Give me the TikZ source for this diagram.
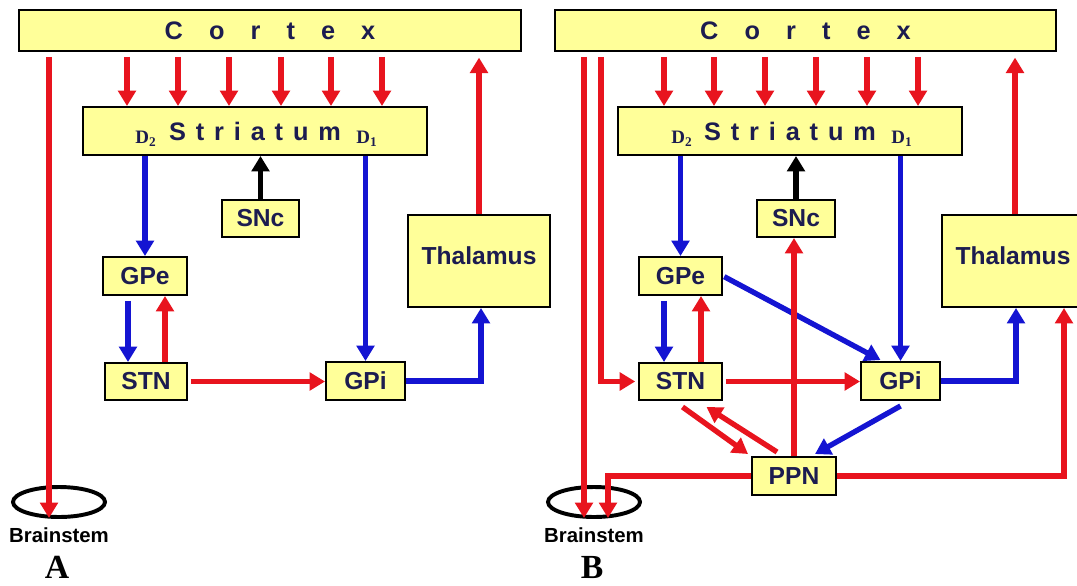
\documentclass[tikz,border=0pt]{standalone}
\usepackage{fontspec}
\setmainfont{Liberation Sans}
\newfontfamily\timesfont{Liberation Serif}
\usepackage{tikz}
\usetikzlibrary{calc,positioning,shapes.geometric,arrows.meta}

\newcommand{\px}{0.025cm}
\definecolor{boxyellow}{RGB}{255,255,153}
\definecolor{navy}{RGB}{28,28,80}
\definecolor{pathred}{RGB}{232,20,30}
\definecolor{pathblue}{RGB}{20,20,210}

\tikzset{
  nucleus/.style={draw=black, line width=1.4pt, fill=boxyellow, inner sep=0pt,
    text=navy, font=\fontsize{17.5}{20}\selectfont\bfseries},
  boxsize/.style 2 args={minimum width=#1*\px, minimum height=#2*\px},
  excite/.style={draw=pathred, line width=3.8pt, -{Triangle[width=12.5pt,length=11pt]}},
  inhibit/.style={draw=pathblue, line width=3.8pt, -{Triangle[width=12.5pt,length=11pt]}},
  dopa/.style={draw=black, line width=3.8pt, -{Triangle[width=12.5pt,length=11pt]}},
  receptor/.style={inner sep=0pt, text=navy, font=\timesfont\bfseries\fontsize{13.5}{15}\selectfont},
  ring/.style={draw=black, line width=2.8pt, ellipse, inner sep=0pt,
    minimum width=92*\px, minimum height=30*\px},
  stemlabel/.style={inner sep=0pt, font=\fontsize{14.5}{16}\selectfont\bfseries},
  panel/.style={inner sep=0pt, font=\timesfont\bfseries\fontsize{24}{26}\selectfont}
}
\newcommand{\cortexword}{C\kern1.03em o\kern1.03em r\kern1.03em t\kern1.03em e\kern1.03em x}
\newcommand{\striatumword}{S\kern.39em t\kern.39em r\kern.39em i\kern.39em a\kern.39em t\kern.39em u\kern.39em m}

\begin{document}
\begin{tikzpicture}[x=\px, y=-\px]
  \useasboundingbox (0,0) rectangle (1077,585);

  % ---- panel A
  \node[nucleus, boxsize={502}{41}, font=\fontsize{18}{20}\selectfont\bfseries] (cortexA) at (270,30.5) {\cortexword};
  \node[nucleus, boxsize={344}{48}, font=\fontsize{18}{20}\selectfont\bfseries] (striA) at (255,131) {\striatumword};
  \node[receptor] (dtwoA) at (146,139) {D\textsubscript{2}};
  \node[receptor] (doneA) at (367,139) {D\textsubscript{1}};
  \node[nucleus, boxsize={77}{37}] (snA) at (260.5,218.5) {SNc};
  \node[nucleus, boxsize={84}{38}] (gpeA) at (145,276) {GPe};
  \node[nucleus, boxsize={82}{37}] (stnA) at (146,381.5) {STN};
  \node[nucleus, boxsize={79}{38}] (gpiA) at (365.5,381) {GPi};
  \node[nucleus, boxsize={142}{92}] (thalA) at (479,261) {\raisebox{8pt}{Thalamus}};
  \node[ring] (bsA) at (59,502) {};
  \node[stemlabel] (bstA) at (59,535) {Brainstem};
  \node[panel] (panA) at (57,567) {A};
  \coordinate (endA) at (49,518);

  \foreach \x in {127,178,229,281,331,382}
    \draw[excite, shorten <=3.5pt] (cortexA.south -| \x,0) -- (striA.north -| \x,0);
  \draw[excite, shorten <=3.5pt] (cortexA.south -| endA) -- (endA);
  \draw[inhibit] (striA.south -| gpeA) -- (gpeA.north);
  \draw[dopa] (snA.north) -- (striA.south -| snA);
  \draw[inhibit] (striA.south -| gpiA) -- (gpiA.north);
  \draw[excite, shorten >=4pt] (thalA.north) -- (cortexA.south -| thalA);
  \draw[inhibit, shorten <=3.5pt] (gpeA.south -| 128,0) -- (stnA.north -| 128,0);
  \draw[excite] (stnA.north -| 165,0) -- (gpeA.south -| 165,0);
  \draw[excite, shorten <=2pt] (stnA.east) -- (stnA.east -| gpiA.west);
  \draw[inhibit] (gpiA.east) -| ($(thalA.south)+(2,0)$);

  % ---- panel B
  \node[nucleus, boxsize={501}{41}, font=\fontsize{18}{20}\selectfont\bfseries] (cortexB) at (805.5,30.5) {\cortexword};
  \node[nucleus, boxsize={344}{48}, font=\fontsize{18}{20}\selectfont\bfseries] (striB) at (790,131) {\striatumword};
  \node[receptor] (dtwoB) at (682,139) {D\textsubscript{2}};
  \node[receptor] (doneB) at (902,139) {D\textsubscript{1}};
  \node[nucleus, boxsize={78}{37}] (snB) at (796,218.5) {SNc};
  \node[nucleus, boxsize={83}{38}] (gpeB) at (680.5,276) {GPe};
  \node[nucleus, boxsize={83}{37}] (stnB) at (680.5,381.5) {STN};
  \node[nucleus, boxsize={79}{38}] (gpiB) at (900.5,381) {GPi};
  \node[nucleus, boxsize={142}{92}] (thalB) at (1013,261) {\raisebox{8pt}{Thalamus}};
  \node[nucleus, boxsize={84}{38}] (ppn) at (794,476) {PPN};
  \node[ring] (bsB) at (594,502) {};
  \node[stemlabel] (bstB) at (594,535) {Brainstem};
  \node[panel] (panB) at (592,567) {B};
  \coordinate (endB) at (584,518);
  \coordinate (endC) at (608,518);

  \foreach \x in {664,714,765,816,867,918}
    \draw[excite, shorten <=3.5pt] (cortexB.south -| \x,0) -- (striB.north -| \x,0);
  \draw[excite, shorten <=3.5pt] (cortexB.south -| endB) -- (endB);
  \draw[excite, shorten <=3.5pt, shorten >=2pt] (cortexB.south -| 601,0) |- (stnB.west);
  \draw[inhibit] (striB.south -| gpeB) -- (gpeB.north);
  \draw[dopa] (snB.north) -- (striB.south -| snB);
  \draw[inhibit] (striB.south -| gpiB) -- (gpiB.north);
  \draw[excite, shorten >=4pt] ($(thalB.north)+(2,0)$) -- (cortexB.south -| 1015,0);
  \draw[inhibit, shorten <=3.5pt] (gpeB.south -| 664,0) -- (stnB.north -| 664,0);
  \draw[excite] (stnB.north -| 701,0) -- (gpeB.south -| 701,0);
  \draw[inhibit, shorten <=1pt] (gpeB.east) -- ($(gpiB.north)+(-20,-1)$);
  \draw[excite, shorten <=2pt] (stnB.east) -- (stnB.east -| gpiB.west);
  \draw[excite] (ppn.north) -- (snB.south -| ppn.north);
  \draw[excite] ($(stnB.south)+(2,6)$) -- ($(ppn.north west)+(-3,-2)$);
  \draw[excite] ($(ppn.north west)+(26,-4)$) -- ($(stnB.south)+(26,6)$);
  \draw[inhibit] ($(gpiB.south)+(0,5)$) -- ($(ppn.north east)+(-22,-2)$);
  \draw[inhibit] (gpiB.east) -| ($(thalB.south)+(3,0)$);
  \draw[excite] (ppn.east) -| ($(thalB.south)+(51,0)$);
  \draw[excite] (ppn.west) -| (endC);
\end{tikzpicture}
\end{document}
